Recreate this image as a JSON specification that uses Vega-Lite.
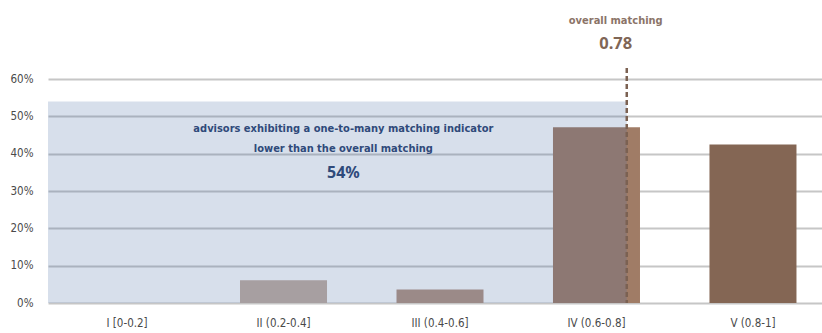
{
  "$schema": "https://vega.github.io/schema/vega-lite/v6.json",
  "width": 774,
  "height": 235,
  "autosize": {"type": "none"},
  "padding": {"left": 48, "top": 68, "right": 0, "bottom": 30},
  "background": "white",
  "config": {
    "view": {"stroke": null},
    "font": "'DejaVu Sans Condensed', 'Liberation Sans', sans-serif",
    "axis": {"labelFont": "'DejaVu Sans Condensed', 'Liberation Sans', sans-serif", "labelFontSize": 11.5, "labelColor": "#4a4a4a"},
    "axisY": {
      "format": ".0%", "tickCount": 7, "labelOverlap": false, "ticks": false, "domain": false,
      "labelPadding": 15, "gridColor": "#c6c6c6", "gridWidth": 2
    }
  },
  "datasets": {
    "bins": [
      {"bin": "I [0-0.2]", "share": 0.0},
      {"bin": "II (0.2-0.4]", "share": 0.061},
      {"bin": "III (0.4-0.6]", "share": 0.036},
      {"bin": "IV (0.6-0.8]", "share": 0.471},
      {"bin": "V (0.8-1]", "share": 0.425}
    ],
    "region": [
      {"from": 0, "to": 0.78, "share": 0.54,
       "note": ["advisors exhibiting a one-to-many matching indicator", "lower than the overall matching"],
       "caption": "overall matching"}
    ]
  },
  "resolve": {"scale": {"x": "independent"}},
  "layer": [
    {
      "data": {"name": "bins"},
      "mark": {"type": "bar"},
      "encoding": {
        "x": {
          "field": "bin", "type": "nominal", "sort": null,
          "scale": {"range": [0, 784], "paddingInner": 0.444, "paddingOuter": 0.227},
          "axis": {"title": null, "ticks": false, "domain": false, "labelAngle": 0, "labelPadding": 14}
        },
        "y": {
          "field": "share", "type": "quantitative", "title": null,
          "scale": {"domain": [0, 0.63], "nice": false}
        },
        "color": {
          "field": "bin", "type": "nominal", "sort": null, "legend": null,
          "scale": {"range": ["#c9b8ad", "#c2ada1", "#b39281", "#a07c66", "#846654"]}
        }
      }
    },
    {
      "data": {"name": "region"},
      "layer": [
        {
          "mark": {"type": "rect", "color": "#4a6fa5", "opacity": 0.22},
          "encoding": {
            "x": {"field": "from", "type": "quantitative",
                  "scale": {"domain": [0, 1], "range": [0, 742], "nice": false, "zero": false},
                  "axis": null},
            "x2": {"field": "to"},
            "y": {"field": "share", "type": "quantitative", "title": null},
            "y2": {"datum": 0}
          }
        },
        {
          "mark": {"type": "rule", "color": "#7b6152", "strokeWidth": 2.5, "strokeDash": [5, 3]},
          "encoding": {
            "x": {"field": "to", "type": "quantitative"}
          }
        },
        {
          "transform": [{"calculate": "(datum.from + datum.to) / 2", "as": "mid"}],
          "layer": [
            {
              "mark": {"type": "text", "align": "center", "baseline": "top", "dx": 6, "dy": 21,
                       "fontWeight": "bold", "fontSize": 11, "lineHeight": 20, "color": "#2f4a7a"},
              "encoding": {
                "x": {"field": "mid", "type": "quantitative"},
                "y": {"field": "share", "type": "quantitative", "title": null},
                "text": {"field": "note"}
              }
            },
            {
              "mark": {"type": "text", "align": "center", "baseline": "alphabetic", "dx": 6, "dy": 76,
                       "font": "Noto Sans", "fontWeight": "bold", "fontSize": 16, "color": "#2f4a7a"},
              "encoding": {
                "x": {"field": "mid", "type": "quantitative"},
                "y": {"field": "share", "type": "quantitative", "title": null},
                "text": {"field": "share", "format": ".0%"}
              }
            }
          ]
        },
        {
          "mark": {"type": "text", "align": "center", "baseline": "alphabetic", "dx": -11, "dy": -44,
                   "fontWeight": "bold", "fontSize": 11, "color": "#8b7468"},
          "encoding": {
            "x": {"field": "to", "type": "quantitative"},
            "y": {"datum": 0.63, "title": null},
            "text": {"field": "caption"}
          }
        },
        {
          "mark": {"type": "text", "align": "center", "baseline": "alphabetic", "dx": -11, "dy": -19,
                   "font": "Noto Sans", "fontWeight": "bold", "fontSize": 16.5, "color": "#7f6656"},
          "encoding": {
            "x": {"field": "to", "type": "quantitative"},
            "y": {"datum": 0.63, "title": null},
            "text": {"field": "to", "format": ".2f"}
          }
        }
      ]
    }
  ]
}
